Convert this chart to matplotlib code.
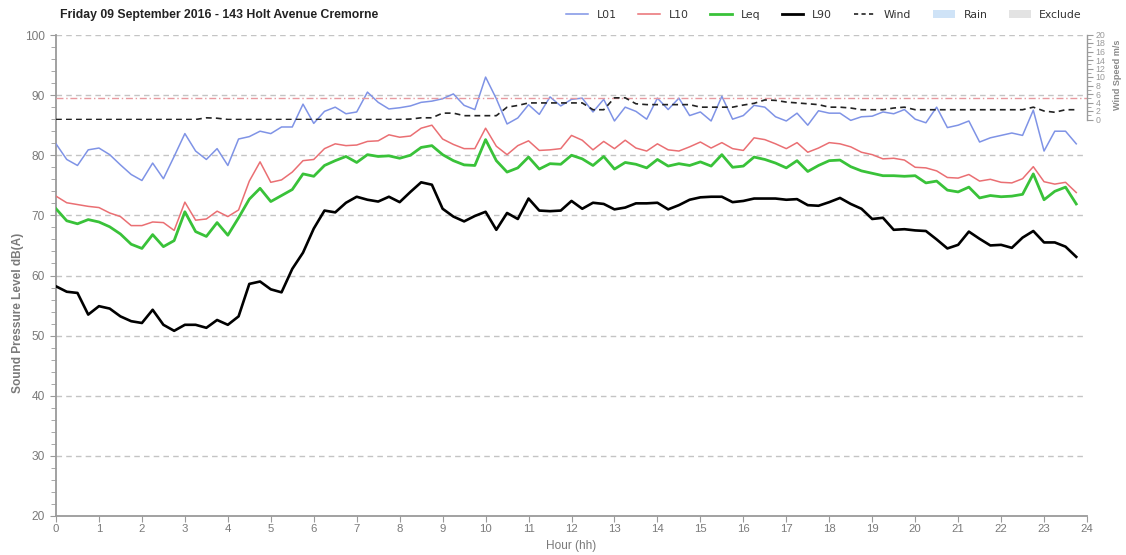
import numpy as np
import matplotlib
matplotlib.use("Agg")
import matplotlib.pyplot as plt
from matplotlib.lines import Line2D
from matplotlib.patches import Patch
from matplotlib.ticker import MultipleLocator

# ---------------- data ----------------
hours = np.arange(96) * 0.25

L01 = [81.9, 79.3, 78.3, 80.9, 81.2, 80.1, 78.4, 76.8, 75.8, 78.7,
       76.1, 79.8, 83.6, 80.7, 79.3, 81.1, 78.3, 82.7, 83.1, 84.0,
       83.6, 84.7, 84.7, 88.5, 85.3, 87.3, 88.0, 86.9, 87.2, 90.5,
       88.8, 87.7, 87.9, 88.2, 88.8, 89.0, 89.4, 90.2, 88.3, 87.6,
       93.0, 89.4, 85.2, 86.2, 88.4, 86.8, 89.7, 88.2, 89.3, 89.5,
       87.2, 89.3, 85.7, 88.0, 87.3, 86.0, 89.5, 87.6, 89.5, 86.6,
       87.2, 85.7, 89.8, 86.0, 86.6, 88.3, 88.0, 86.4, 85.7, 87.0,
       85.0, 87.4, 87.0, 87.0, 85.8, 86.4, 86.5, 87.2, 86.9, 87.6,
       86.0, 85.4, 88.0, 84.6, 85.0, 85.7, 82.2, 82.9, 83.3, 83.7,
       83.3, 87.5, 80.7, 84.0, 84.0, 81.9]

L10 = [73.2, 72.1, 71.8, 71.5, 71.3, 70.4, 69.8, 68.3, 68.3, 68.9,
       68.8, 67.5, 72.2, 69.2, 69.4, 70.7, 69.8, 70.9, 75.7, 78.9,
       75.5, 75.9, 77.2, 79.1, 79.3, 81.1, 81.9, 81.6, 81.7, 82.3,
       82.4, 83.4, 83.0, 83.2, 84.5, 85.0, 82.7, 81.8, 81.1, 81.1,
       84.5, 81.5, 80.1, 81.6, 82.4, 80.8, 80.9, 81.1, 83.3, 82.5,
       80.9, 82.3, 81.1, 82.5, 81.2, 80.7, 81.9, 80.9, 80.7, 81.4,
       82.2, 81.2, 82.1, 81.1, 80.8, 82.9, 82.6, 81.9, 81.1, 82.1,
       80.5, 81.2, 82.1, 81.9, 81.4, 80.5, 80.1, 79.4, 79.5, 79.2,
       78.0, 77.9, 77.4, 76.3, 76.2, 76.8, 75.7, 76.0, 75.5, 75.4,
       76.1, 78.1, 75.6, 75.2, 75.5, 73.8]

LEQ = [71.1, 69.1, 68.6, 69.3, 68.9, 68.1, 66.9, 65.2, 64.5, 66.8,
       64.8, 65.8, 70.6, 67.3, 66.5, 68.8, 66.7, 69.6, 72.7, 74.5,
       72.3, 73.3, 74.3, 76.9, 76.5, 78.3, 79.1, 79.8, 78.8, 80.1,
       79.8, 79.9, 79.5, 80.0, 81.3, 81.6, 80.1, 79.1, 78.4, 78.3,
       82.6, 79.1, 77.2, 77.9, 79.7, 77.7, 78.6, 78.5, 80.0, 79.4,
       78.3, 79.8, 77.7, 78.8, 78.5, 77.9, 79.3, 78.2, 78.6, 78.3,
       78.9, 78.2, 80.1, 78.0, 78.2, 79.7, 79.3, 78.7, 77.9, 79.1,
       77.3, 78.3, 79.1, 79.2, 78.1, 77.4, 77.0, 76.6, 76.6, 76.5,
       76.6, 75.4, 75.7, 74.2, 73.9, 74.7, 72.9, 73.3, 73.1, 73.2,
       73.5, 76.9, 72.6, 74.0, 74.7, 71.9]

L90 = [58.2, 57.3, 57.1, 53.5, 54.9, 54.5, 53.2, 52.4, 52.1, 54.3,
       51.8, 50.8, 51.8, 51.8, 51.3, 52.6, 51.8, 53.2, 58.6, 59.0,
       57.7, 57.2, 61.1, 63.8, 67.8, 70.8, 70.5, 72.1, 73.1, 72.6,
       72.3, 73.1, 72.2, 73.9, 75.5, 75.1, 71.1, 69.8, 69.0, 69.9,
       70.6, 67.6, 70.4, 69.4, 72.8, 70.8, 70.7, 70.8, 72.4, 71.1,
       72.1, 71.9, 71.0, 71.3, 72.0, 72.0, 72.1, 71.0, 71.7, 72.6,
       73.0, 73.1, 73.1, 72.2, 72.4, 72.8, 72.8, 72.8, 72.6, 72.7,
       71.7, 71.6, 72.2, 72.9, 71.9, 71.1, 69.4, 69.6, 67.6, 67.7,
       67.5, 67.4, 66.0, 64.5, 65.1, 67.3, 66.1, 65.0, 65.1, 64.6,
       66.3, 67.4, 65.5, 65.5, 64.8, 63.1]

WIND = [0.0, 0.0, 0.0, 0.0, 0.0, 0.0, 0.0, 0.0, 0.0, 0.0,
        0.0, 0.0, 0.0, 0.0, 0.4, 0.3, 0.0, 0.0, 0.0, 0.0,
        0.0, 0.0, 0.0, 0.0, 0.0, 0.0, 0.0, 0.0, 0.0, 0.0,
        0.0, 0.0, 0.0, 0.1, 0.4, 0.4, 1.5, 1.5, 0.9, 0.9,
        0.9, 0.9, 2.9, 3.3, 3.9, 3.9, 3.9, 3.9, 3.9, 3.9,
        2.3, 2.3, 5.1, 5.1, 3.7, 3.5, 3.5, 3.5, 3.5, 3.5,
        2.9, 2.9, 2.9, 2.9, 3.4, 3.8, 4.6, 4.5, 4.1, 3.9,
        3.7, 3.5, 2.9, 2.9, 2.7, 2.3, 2.3, 2.3, 2.7, 2.9,
        2.3, 2.3, 2.3, 2.3, 2.3, 2.3, 2.3, 2.3, 2.3, 2.3,
        2.3, 2.9, 2.0, 1.7, 2.3, 2.3]

WIND_LIMIT = 5.0

TITLE = "Friday 09 September 2016 - 143 Holt Avenue Cremorne"
X_TICKS = list(range(0, 25))
Y_TICKS = list(range(20, 101, 10))
WIND_TICKS = list(range(0, 21, 2))

# ---------------- style ----------------
C_L01 = "#7f93e6"
C_L10 = "#ea6f73"
C_LEQ = "#39c239"
C_L90 = "#000000"
C_AXIS = "#9a9a9a"
C_TXT = "#7a7a7a"
SANS = ["Liberation Sans", "DejaVu Sans"]

W, H = 1126, 555
fig = plt.figure(figsize=(W / 100, H / 100), dpi=100)

def fx(px):
    return px / W

def fy(py):
    return 1 - py / H

# main axes: x 56..1087 px, y 35..516 px
ax = fig.add_axes([fx(56), fy(516), (1087 - 56) / W, (516 - 35) / H])
ax.set_xlim(0, 24)
ax.set_ylim(20, 100)
ax.patch.set_alpha(0)

for s in ("top", "right"):
    ax.spines[s].set_visible(False)
for s in ("left", "bottom"):
    ax.spines[s].set_color(C_AXIS)
    ax.spines[s].set_linewidth(1.3)

ax.set_yticks(Y_TICKS)
ax.yaxis.set_minor_locator(MultipleLocator(2))
ax.set_xticks(X_TICKS)
ax.tick_params(axis="y", which="major", length=4, color=C_AXIS, labelcolor=C_TXT,
               labelsize=8.6, pad=4)
ax.tick_params(axis="y", which="minor", length=3.5, color=C_AXIS)
ax.tick_params(axis="x", which="major", length=4, color=C_AXIS, labelcolor=C_TXT,
               labelsize=8.2, pad=1.5)
for lab in ax.get_xticklabels() + ax.get_yticklabels():
    lab.set_family(SANS)

for yv in Y_TICKS[1:]:
    ax.axhline(yv, color="#c4c4c4", lw=1.0, ls=(0, (4, 3)), zorder=1)

ax.plot(hours, L01, color=C_L01, lw=1.1, zorder=3)
ax.plot(hours, L10, color=C_L10, lw=1.1, zorder=3)
ax.plot(hours, LEQ, color=C_LEQ, lw=2.0, zorder=4)
ax.plot(hours, L90, color=C_L90, lw=1.9, zorder=5)

# wind axes: 0 at y=119.5 px, 20 at y=34.5 px
wax = fig.add_axes([fx(56), fy(119.5), (1087 - 56) / W, 85 / H])
wax.set_xlim(0, 24)
wax.set_ylim(0, 20)
wax.patch.set_alpha(0)
for s in ("top", "left", "bottom"):
    wax.spines[s].set_visible(False)
wax.spines["right"].set_color(C_AXIS)
wax.spines["right"].set_linewidth(1.0)
wax.set_xticks([])
wax.yaxis.tick_right()
wax.set_yticks(WIND_TICKS)
wax.yaxis.set_minor_locator(MultipleLocator(1))
wax.tick_params(axis="y", which="major", length=4, color=C_AXIS, labelcolor="#9a9a9a",
                labelsize=6.3, pad=2)
wax.tick_params(axis="y", which="minor", length=3, color=C_AXIS)
for lab in wax.get_yticklabels():
    lab.set_family(SANS)
wax.axhline(WIND_LIMIT, color="#e89aa0", lw=1.0, ls=(0, (5, 2, 1, 2)), zorder=2)
wax.plot(hours, WIND, color="#222222", lw=1.2, ls=(0, (3.5, 2.5)), zorder=3)

# texts
fig.text(fx(60), fy(15), TITLE, fontsize=8.8, fontweight="bold", family=SANS,
         color="#222222", ha="left", va="center")
fig.text(fx(18), fy(313), "Sound Pressure Level dB(A)", rotation=90, fontsize=8.6,
         fontweight="bold", family=SANS, color=C_TXT, ha="center", va="center")
fig.text(fx(571), fy(546), "Hour (hh)", fontsize=8.6, family=SANS,
         color=C_TXT, ha="center", va="center")
fig.text(fx(1117), fy(75), "Wind Speed m/s", rotation=90, fontsize=6.6,
         fontweight="bold", family=SANS, color="#8a8a8a", ha="center", va="center")

# legend
handles = [
    Line2D([], [], color=C_L01, lw=1.1),
    Line2D([], [], color=C_L10, lw=1.1),
    Line2D([], [], color=C_LEQ, lw=2.0),
    Line2D([], [], color=C_L90, lw=2.0),
    Line2D([], [], color="#222222", lw=1.2, ls=(0, (2.5, 2))),
    Patch(facecolor="#cfe3f7", edgecolor="none"),
    Patch(facecolor="#e3e3e3", edgecolor="none"),
]
labels = ["L01", "L10", "Leq", "L90", "Wind", "Rain", "Exclude"]
leg = fig.legend(handles, labels, ncol=7, frameon=False, loc="center right",
                 bbox_to_anchor=(fx(1082), fy(15)), fontsize=7.8,
                 handlelength=2.0, handleheight=0.7, handletextpad=0.8,
                 columnspacing=2.0, borderpad=0, borderaxespad=0)
for t in leg.get_texts():
    t.set_color("#333333")

fig.savefig("out.png", dpi=100)
